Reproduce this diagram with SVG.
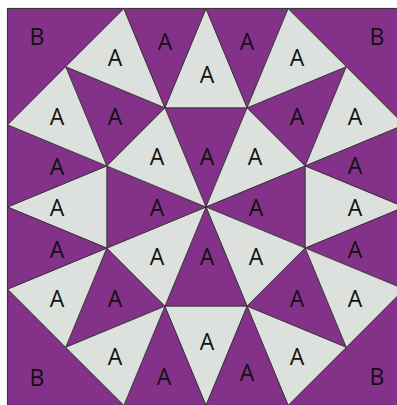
<svg xmlns="http://www.w3.org/2000/svg" width="397" height="405" viewBox="0 0 397 405">
<style>
.p{fill:#84318a;stroke:#2e2e2e;stroke-width:0.8;stroke-linejoin:round}
.l{fill:#dde1dd;stroke:#2e2e2e;stroke-width:0.8;stroke-linejoin:round}
text{font-family:"Open Sans","DejaVu Sans",sans-serif;font-size:23px;fill:#111;text-anchor:middle}
</style>
<rect x="0" y="0" width="397" height="405" fill="#ffffff"/>
<g id="center">
<g id="T0"><polygon class="p" points="206,207 164.9,107.75 247.1,107.75"/><text x="207" y="165">A</text></g>
<g id="T1"><polygon class="l" points="206,207 247.1,107.75 305.25,165.9"/><text x="255" y="165">A</text></g>
<g id="T2"><polygon class="p" points="206,207 305.25,165.9 305.25,248.1"/><text x="256" y="216">A</text></g>
<g id="T3"><polygon class="l" points="206,207 305.25,248.1 247.1,306.25"/><text x="256" y="265">A</text></g>
<g id="T4"><polygon class="p" points="206,207 247.1,306.25 164.9,306.25"/><text x="207" y="265">A</text></g>
<g id="T5"><polygon class="l" points="206,207 164.9,306.25 106.75,248.1"/><text x="157" y="265">A</text></g>
<g id="T6"><polygon class="p" points="206,207 106.75,248.1 106.75,165.9"/><text x="157" y="216">A</text></g>
<g id="T7"><polygon class="l" points="206,207 106.75,165.9 164.9,107.75"/><text x="157" y="165">A</text></g>
</g>
<g id="ring">
<g id="O0"><polygon class="l" points="164.9,107.75 206,8.5 247.1,107.75"/><text x="207" y="83">A</text></g>
<g id="O1"><polygon class="p" points="247.1,107.75 346.4,66.6 305.25,165.9"/><text x="297" y="125">A</text></g>
<g id="O2"><polygon class="l" points="305.25,165.9 404.5,207 305.25,248.1"/><text x="355" y="216">A</text></g>
<g id="O3"><polygon class="p" points="305.25,248.1 346.4,347.4 247.1,306.25"/><text x="297" y="307">A</text></g>
<g id="O4"><polygon class="l" points="247.1,306.25 206,405.5 164.9,306.25"/><text x="207" y="350">A</text></g>
<g id="O5"><polygon class="p" points="164.9,306.25 65.6,347.4 106.75,248.1"/><text x="115" y="307">A</text></g>
<g id="O6"><polygon class="l" points="106.75,248.1 7.5,207 106.75,165.9"/><text x="57" y="216">A</text></g>
<g id="O7"><polygon class="p" points="106.75,165.9 65.6,66.6 164.9,107.75"/><text x="115" y="125">A</text></g>
</g>
<g id="outer">
<g id="Fa0"><polygon class="p" points="247.1,107.75 206,8.5 288.2,8.5"/><text x="247" y="50">A</text></g>
<g id="Fb0"><polygon class="l" points="247.1,107.75 288.2,8.5 346.4,66.6"/><text x="297" y="66">A</text></g>
<g id="Fa1"><polygon class="l" points="305.25,165.9 346.4,66.6 404.5,124.8"/><text x="355" y="125">A</text></g>
<g id="Fb1"><polygon class="p" points="305.25,165.9 404.5,124.8 404.5,207"/><text x="355" y="174">A</text></g>
<g id="Fa2"><polygon class="p" points="305.25,248.1 404.5,207 404.5,289.2"/><text x="355" y="258">A</text></g>
<g id="Fb2"><polygon class="l" points="305.25,248.1 404.5,289.2 346.4,347.4"/><text x="355" y="307">A</text></g>
<g id="Fa3"><polygon class="l" points="247.1,306.25 346.4,347.4 288.2,405.5"/><text x="297" y="365">A</text></g>
<g id="Fb3"><polygon class="p" points="247.1,306.25 288.2,405.5 206,405.5"/><text x="247" y="381">A</text></g>
<g id="Fa4"><polygon class="p" points="164.9,306.25 206,405.5 123.8,405.5"/><text x="164" y="385">A</text></g>
<g id="Fb4"><polygon class="l" points="164.9,306.25 123.8,405.5 65.6,347.4"/><text x="115" y="365">A</text></g>
<g id="Fa5"><polygon class="l" points="106.75,248.1 65.6,347.4 7.5,289.2"/><text x="57" y="307">A</text></g>
<g id="Fb5"><polygon class="p" points="106.75,248.1 7.5,289.2 7.5,207"/><text x="57" y="258">A</text></g>
<g id="Fa6"><polygon class="p" points="106.75,165.9 7.5,207 7.5,124.8"/><text x="57" y="175">A</text></g>
<g id="Fb6"><polygon class="l" points="106.75,165.9 7.5,124.8 65.6,66.6"/><text x="57" y="125">A</text></g>
<g id="Fa7"><polygon class="l" points="164.9,107.75 65.6,66.6 123.8,8.5"/><text x="115" y="66">A</text></g>
<g id="Fb7"><polygon class="p" points="164.9,107.75 123.8,8.5 206,8.5"/><text x="165" y="50">A</text></g>
</g>
<g id="corners">
<g id="B_TL"><polygon class="p" points="7.5,8.5 123.8,8.5 65.6,66.6 7.5,124.8"/><text x="37" y="45">B</text></g>
<g id="B_TR"><polygon class="p" points="288.2,8.5 404.5,8.5 404.5,124.8 346.4,66.6"/><text x="377" y="45">B</text></g>
<g id="B_BR"><polygon class="p" points="404.5,289.2 404.5,405.5 288.2,405.5 346.4,347.4"/><text x="377" y="385">B</text></g>
<g id="B_BL"><polygon class="p" points="7.5,289.2 65.6,347.4 123.8,405.5 7.5,405.5"/><text x="37" y="386">B</text></g>
</g>
<g id="connectors"/>
<rect x="7.5" y="8.5" width="397" height="397" fill="none" stroke="#3a3a3a" stroke-width="1.2"/>
</svg>
